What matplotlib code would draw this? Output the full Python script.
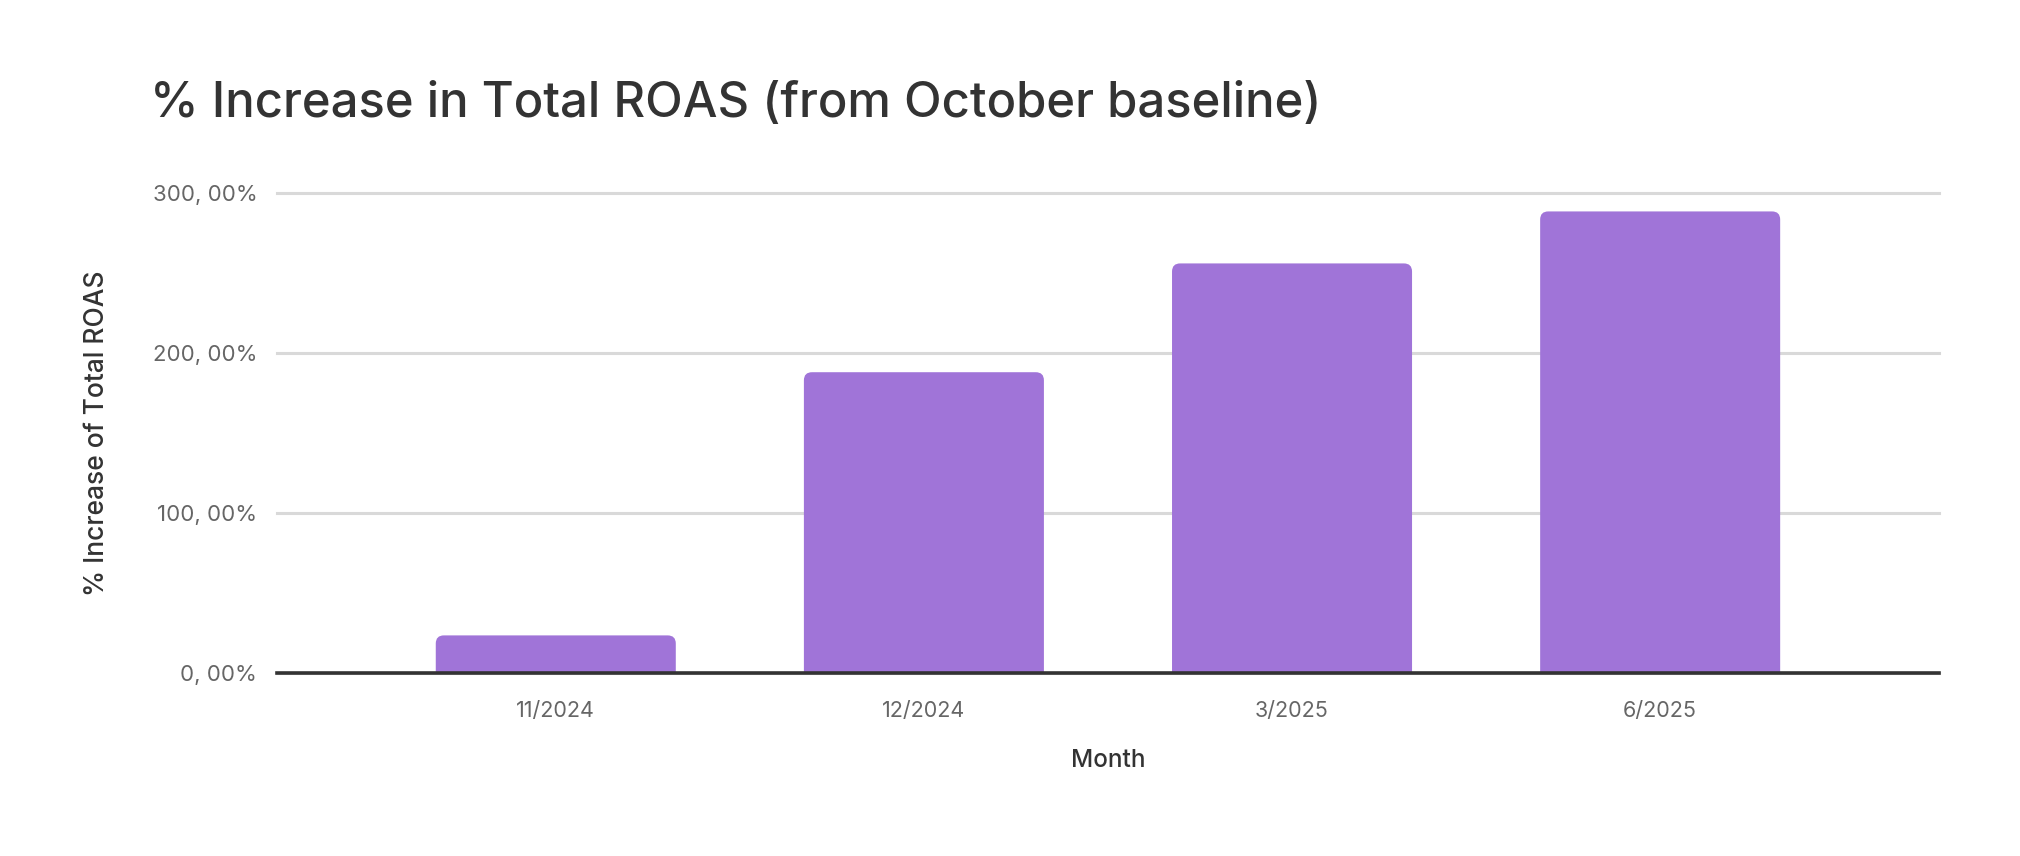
import numpy as np
import matplotlib.pyplot as plt
from matplotlib.patches import FancyBboxPatch
from matplotlib.ticker import FuncFormatter

months = ['11/2024', '12/2024', '3/2025', '6/2025']
roas_increase = [23.5, 188.0, 256.0, 288.5]  # % increase from October

plt.rcParams['font.family'] = ['Inter', 'DejaVu Sans']

bar_color = '#A074D8'
x = np.arange(len(months))
width = 0.652

fig = plt.figure(figsize=(20.2, 8.56), dpi=100)
ax = fig.add_axes([0.137, 0.2138, 0.823, 0.5607])

bars = ax.bar(x, roas_increase, width, color=bar_color, zorder=2)

# swap the plain bars for ones with rounded top corners
for b in bars.patches:
    b.set_visible(False)
    rounded = FancyBboxPatch((b.get_x(), -10), b.get_width(), b.get_height() + 10,
                             boxstyle='round,pad=0,rounding_size=0.022',
                             mutation_aspect=230, facecolor=bar_color,
                             edgecolor='none', zorder=2)
    ax.add_patch(rounded)

ax.set_xlim(-0.758, len(months) - 1 + 0.758)
ax.set_ylim(0, 300)
ax.set_yticks([0, 100, 200, 300])
ax.yaxis.set_major_formatter(FuncFormatter(lambda v, p: '{:.2f}%'.format(v).replace('.', ', ')))
ax.set_xticks(x, months)

ax.grid(axis='y', color='#D9D9D9', linewidth=2.2, zorder=0)
ax.set_axisbelow(True)
for gl in ax.get_ygridlines():
    gl.set_clip_on(False)
for s in ['top', 'right', 'left']:
    ax.spines[s].set_visible(False)
ax.spines['bottom'].set_color('#333333')
ax.spines['bottom'].set_linewidth(2.6)
ax.spines['bottom'].set_zorder(3)

ax.tick_params(axis='both', length=0, labelcolor='#666666')
ax.tick_params(axis='y', pad=14, labelsize=16)
ax.tick_params(axis='x', pad=20, labelsize=15.5)

ax.set_xlabel('Month', fontsize=17.5, color='#333333', labelpad=20, fontweight='medium')
ax.set_ylabel('% Increase of Total ROAS', fontsize=19, color='#333333', fontweight='medium')
ax.yaxis.set_label_coords(-0.100, 0.5)

fig.text(0.0745, 0.879, '% Increase in Total ROAS (from October baseline)',
         fontsize=35.3, color='#333333', ha='left', va='center', fontweight='medium')

fig.savefig('out.png', dpi=100, facecolor='white')
